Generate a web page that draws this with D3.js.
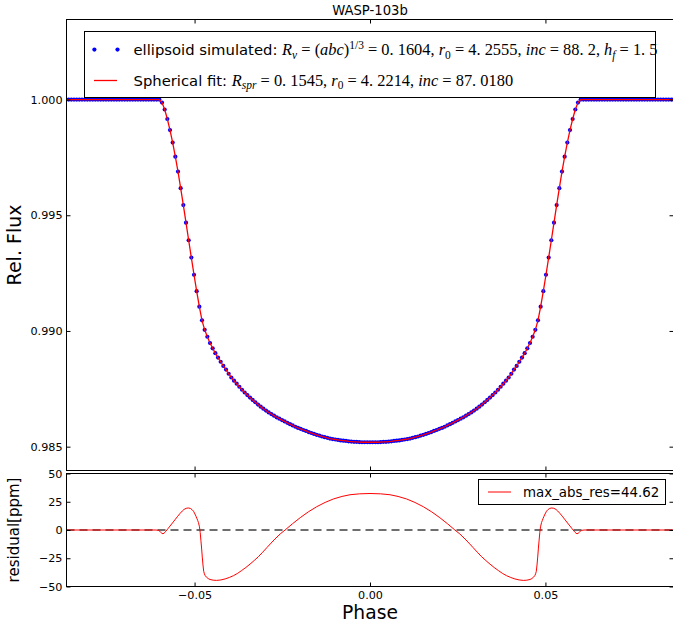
<!DOCTYPE html>
<html><head><meta charset="utf-8">
<script src="https://cdn.jsdelivr.net/npm/d3@7"></script>
<style>body{margin:0;background:#fff} svg{display:block} text{font-family:"DejaVu Sans",sans-serif}</style>
</head><body><svg id="c" width="673" height="628"></svg>
<script>
// ---- data ----
const phase = [
-0.08664,-0.08588,-0.08512,-0.08436,-0.0836,-0.08284,-0.08208,-0.08132,-0.08056,-0.0798,
-0.07904,-0.07828,-0.07752,-0.07676,-0.076,-0.07524,-0.07448,-0.07372,-0.07296,-0.0722,
-0.07144,-0.07068,-0.06992,-0.06916,-0.0684,-0.06764,-0.06688,-0.06612,-0.06536,-0.0646,
-0.06384,-0.06308,-0.06232,-0.06156,-0.0608,-0.06004,
-0.05928,-0.05852,-0.05776,-0.057,-0.05624,-0.05548,-0.05472,-0.05396,-0.0532,-0.05244,
-0.05168,-0.05092,-0.05016,-0.0494,-0.04864,-0.04788,-0.04712,-0.04636,-0.0456,-0.04484,
-0.04408,-0.04332,-0.04256,-0.0418,-0.04104,-0.04028,-0.03952,-0.03876,-0.038,-0.03724,
-0.03648,-0.03572,-0.03496,-0.0342,-0.03344,-0.03268,-0.03192,-0.03116,-0.0304,-0.02964,
-0.02888,-0.02812,-0.02736,-0.0266,-0.02584,-0.02508,-0.02432,-0.02356,-0.0228,-0.02204,
-0.02128,-0.02052,-0.01976,-0.019,-0.01824,-0.01748,-0.01672,-0.01596,-0.0152,-0.01444,
-0.01368,-0.01292,-0.01216,-0.0114,-0.01064,-0.00988,-0.00912,-0.00836,-0.0076,-0.00684,
-0.00608,-0.00532,-0.00456,-0.0038,-0.00304,-0.00228,-0.00152,-0.00076,
0,
0.00076,0.00152,0.00228,0.00304,0.0038,0.00456,0.00532,0.00608,
0.00684,0.0076,0.00836,0.00912,0.00988,0.01064,0.0114,0.01216,0.01292,0.01368,
0.01444,0.0152,0.01596,0.01672,0.01748,0.01824,0.019,0.01976,0.02052,0.02128,
0.02204,0.0228,0.02356,0.02432,0.02508,0.02584,0.0266,0.02736,0.02812,0.02888,
0.02964,0.0304,0.03116,0.03192,0.03268,0.03344,0.0342,0.03496,0.03572,0.03648,
0.03724,0.038,0.03876,0.03952,0.04028,0.04104,0.0418,0.04256,0.04332,0.04408,
0.04484,0.0456,0.04636,0.04712,0.04788,0.04864,0.0494,0.05016,0.05092,0.05168,
0.05244,0.0532,0.05396,0.05472,0.05548,0.05624,0.057,0.05776,0.05852,0.05928,
0.06004,0.0608,0.06156,0.06232,0.06308,0.06384,
0.0646,0.06536,0.06612,0.06688,0.06764,0.0684,0.06916,0.06992,0.07068,0.07144,
0.0722,0.07296,0.07372,0.07448,0.07524,0.076,0.07676,0.07752,0.07828,0.07904,
0.0798,0.08056,0.08132,0.08208,0.08284,0.0836,0.08436,0.08512,0.08588,0.08664
];
const simFlux = [
1,1,1,1,1,1,1,1,1,1,
1,1,1,1,1,1,1,1,1,1,
1,1,1,1,1,1,1,1,1,1,
1,1,1,1,1,1,
0.99987,0.99957,0.99916,0.99868,0.99814,0.99753,0.99689,0.99617,0.99544,0.99468,
0.99392,0.99317,0.99243,0.99172,0.99105,0.99046,0.99005,0.98975,0.98948,0.98925,
0.98904,0.98885,0.98867,0.98849,0.98833,0.98815,0.98799,0.98785,0.98772,0.98759,
0.98746,0.98734,0.98723,0.98712,0.98702,0.98692,0.98682,0.98673,0.98664,0.98656,
0.98648,0.98641,0.98634,0.98627,0.98621,0.98615,0.98609,0.98603,0.98597,0.98592,
0.98586,0.98581,0.98577,0.98572,0.98568,0.98563,0.98559,0.98555,0.98551,0.98548,
0.98544,0.98541,0.98538,0.98535,0.98533,0.98531,0.98529,0.98527,0.98526,0.98525,
0.98523,0.98522,0.98521,0.98521,0.98520,0.98519,0.98519,0.98519,
0.98519,
0.98519,0.98519,0.98519,0.98520,0.98521,0.98521,0.98522,0.98523,
0.98525,0.98526,0.98527,0.98529,0.98531,0.98533,0.98535,0.98538,0.98541,0.98544,
0.98548,0.98551,0.98555,0.98559,0.98563,0.98568,0.98572,0.98577,0.98581,0.98586,
0.98592,0.98597,0.98603,0.98609,0.98615,0.98621,0.98627,0.98634,0.98641,0.98648,
0.98656,0.98664,0.98673,0.98682,0.98692,0.98702,0.98712,0.98723,0.98734,0.98746,
0.98759,0.98772,0.98785,0.98799,0.98815,0.98833,0.98849,0.98867,0.98885,0.98904,
0.98925,0.98948,0.98975,0.99005,0.99046,0.99105,0.99172,0.99243,0.99317,0.99392,
0.99468,0.99544,0.99617,0.99689,0.99753,0.99814,0.99868,0.99916,0.99957,0.99987,
1,1,1,1,1,1,
1,1,1,1,1,1,1,1,1,1,
1,1,1,1,1,1,1,1,1,1,
1,1,1,1,1,1,1,1,1,1
];
// spherical fit: indistinguishable from the simulated curve at this scale
const fitFlux = simFlux;

const resPhase = [
-0.0865,-0.0610,-0.0602,-0.0597,-0.0593,-0.0590,-0.0587,-0.0583,-0.0579,-0.0575,
-0.0570,-0.0563,-0.0556,-0.0548,-0.0541,-0.0535,-0.0530,-0.0524,-0.0518,-0.0512,
-0.0507,-0.0503,-0.0499,-0.0496,-0.0493,-0.0491,-0.0489,-0.0486,-0.0484,-0.0482,
-0.0480,-0.0478,-0.0476,-0.0474,-0.0472,-0.0470,-0.0466,-0.0461,-0.0456,-0.0447,
-0.0437,-0.0425,-0.0413,-0.0401,-0.0389,-0.0377,-0.0366,-0.0354,-0.0342,-0.0330,
-0.0318,-0.0306,-0.0294,-0.0282,-0.0271,-0.0256,-0.0242,-0.0221,-0.0199,-0.0176,
-0.0152,-0.0128,-0.0104,-0.0080,-0.0057,-0.0030,
0,
0.0030,0.0057,0.0080,0.0104,0.0128,0.0152,
0.0176,0.0199,0.0221,0.0242,0.0256,0.0271,0.0282,0.0294,0.0306,0.0318,
0.0330,0.0342,0.0354,0.0366,0.0377,0.0389,0.0401,0.0413,0.0425,0.0437,
0.0447,0.0456,0.0461,0.0466,0.0470,0.0472,0.0474,0.0476,0.0478,0.0480,
0.0482,0.0484,0.0486,0.0489,0.0491,0.0493,0.0496,0.0499,0.0503,0.0507,
0.0512,0.0518,0.0524,0.0530,0.0535,0.0541,0.0548,0.0556,0.0563,0.0570,
0.0575,0.0579,0.0583,0.0587,0.0590,0.0593,0.0597,0.0602,0.0610,0.0865
];
const resPpm = [
0,0,-0.4,-1.8,-3.0,-3.3,-2.8,-1.6,0,1.5,
3.5,6.2,9,12.2,14.8,16.8,18.2,19.2,19.5,19.1,
18,16.6,14.2,12.2,10,8.3,6.7,2.8,-2.1,-9,
-16,-24,-31,-36.5,-38.8,-40.2,-41.8,-43,-43.8,-44.4,
-44.6,-44.2,-43.3,-42,-40.4,-38.3,-35.9,-33.2,-30.2,-27,
-23.6,-19.7,-15.6,-11.6,-8,-3.5,0,5.5,10.9,16,
20.6,24.4,27.5,29.7,31.2,32.0,
32.3,
32.0,31.2,29.7,27.5,24.4,20.6,
16,10.9,5.5,0,-3.5,-8,-11.6,-15.6,-19.7,-23.6,
-27,-30.2,-33.2,-35.9,-38.3,-40.4,-42,-43.3,-44.2,-44.6,
-44.4,-43.8,-43,-41.8,-40.2,-38.8,-36.5,-31,-24,-16,
-9,-2.1,2.8,6.7,8.3,10,12.2,14.2,16.6,18,
19.1,19.5,19.2,18.2,16.8,14.8,12.2,9,6.2,3.5,
1.5,0,-1.6,-2.8,-3.3,-3.0,-1.8,-0.4,0,0
];
const xTicks = [-0.05, 0, 0.05];
const fluxTicks = [0.985, 0.990, 0.995, 1.000];
const resTicks = [-50, -25, 0, 25, 50];
const titleText = "WASP-103b";
const resLegend = "max_abs_res=44.62";

// ---- layout ----
const svg = d3.select("#c");
const L = 66.5, R = 673.5, T1 = 19.5, B1 = 470.5, T2 = 473.5, B2 = 586.5;
const x = d3.scaleLinear().domain([-0.0865, 0.0865]).range([L, R]);
const yTop = d3.scaleLinear().domain([0.98397, 1.00346]).range([B1, T1]);
const yRes = d3.scaleLinear().domain([-50, 50]).range([B2, T2]);

const defs = svg.append("defs");
defs.append("clipPath").attr("id","clipTop").append("rect").attr("x",L).attr("y",T1).attr("width",R-L).attr("height",B1-T1);
defs.append("clipPath").attr("id","clipBot").append("rect").attr("x",L).attr("y",T2).attr("width",R-L).attr("height",B2-T2);

// ---- top panel ----
const pts = phase.map((p,i)=>({p, f: simFlux[i]})).filter(d=>d.f!==undefined);
const gTop = svg.append("g").attr("clip-path","url(#clipTop)");
gTop.selectAll("circle").data(pts).join("circle")
  .attr("cx", d=>x(d.p)).attr("cy", d=>yTop(d.f)).attr("r", 2.1).attr("fill","#0000ff");
gTop.append("path").datum(phase.map((p,i)=>[p, fitFlux[i]]))
  .attr("d", d3.line().x(d=>x(d[0])).y(d=>yTop(d[1])))
  .attr("fill","none").attr("stroke","#ff0000").attr("stroke-width",1.3);

// ---- bottom panel ----
const gBot = svg.append("g").attr("clip-path","url(#clipBot)");
gBot.append("line").attr("x1",L).attr("x2",R).attr("y1",yRes(0)).attr("y2",yRes(0))
  .attr("stroke","#555").attr("stroke-width",2).attr("stroke-dasharray","8,5").attr("opacity",0.85);
gBot.append("path").datum(resPhase.map((p,i)=>[p,resPpm[i]]))
  .attr("d", d3.line().x(d=>x(d[0])).y(d=>yRes(d[1])))
  .attr("fill","none").attr("stroke","#ff0000").attr("stroke-width",1);

// ---- axes ----
function styleAxis(g, fs){
  g.select(".domain").remove();
  g.selectAll(".tick line").attr("stroke","#000");
  g.selectAll("text").attr("font-size", fs).attr("font-family","DejaVu Sans").attr("fill","#000");
  g.attr("font-family", null);
}
const tfs = 11.2;
styleAxis(svg.append("g").attr("transform",`translate(${L},0)`).call(d3.axisLeft(yTop).tickValues(fluxTicks).tickSize(-4).tickPadding(4).tickFormat(d3.format(".3f"))), tfs);
styleAxis(svg.append("g").attr("transform",`translate(${R},0)`).call(d3.axisRight(yTop).tickValues(fluxTicks).tickSize(-4).tickFormat("")), tfs);
styleAxis(svg.append("g").attr("transform",`translate(0,${T1})`).call(d3.axisTop(x).tickValues(xTicks).tickSize(-4).tickFormat("")), tfs);
styleAxis(svg.append("g").attr("transform",`translate(0,${B1})`).call(d3.axisBottom(x).tickValues(xTicks).tickSize(-4).tickFormat("")), tfs);
styleAxis(svg.append("g").attr("transform",`translate(0,${T2})`).call(d3.axisTop(x).tickValues(xTicks).tickSize(-4).tickFormat("")), tfs);
styleAxis(svg.append("g").attr("transform",`translate(0,${B2})`).call(d3.axisBottom(x).tickValues(xTicks).tickSize(-4).tickPadding(4.5).tickFormat(d3.format(".2f"))), tfs);
styleAxis(svg.append("g").attr("transform",`translate(${L},0)`).call(d3.axisLeft(yRes).tickValues(resTicks).tickSize(-4).tickPadding(4).tickFormat(d3.format("d"))), tfs);
styleAxis(svg.append("g").attr("transform",`translate(${R},0)`).call(d3.axisRight(yRes).tickValues(resTicks).tickSize(-4).tickFormat("")), tfs);

// spines
svg.append("rect").attr("x",L).attr("y",T1).attr("width",R-L).attr("height",B1-T1).attr("fill","none").attr("stroke","#000");
svg.append("rect").attr("x",L).attr("y",T2).attr("width",R-L).attr("height",B2-T2).attr("fill","none").attr("stroke","#000");

// title & labels
svg.append("text").attr("x",(L+R)/2).attr("y",15).attr("text-anchor","middle").attr("font-size",13.2).text(titleText);
svg.append("text").attr("transform",`translate(21,${(T1+B1)/2}) rotate(-90)`).attr("text-anchor","middle").attr("font-size",19).text("Rel. Flux");
svg.append("text").attr("transform",`translate(19,${(T2+B2)/2}) rotate(-90)`).attr("text-anchor","middle").attr("font-size",15).text("residual[ppm]");
svg.append("text").attr("x",(L+R)/2).attr("y",619).attr("text-anchor","middle").attr("font-size",18.7).text("Phase");

// ---- top legend ----
svg.append("rect").attr("x",84.5).attr("y",31.5).attr("width",571).attr("height",66).attr("fill","#fff").attr("stroke","#000");
[94.4,117.5].forEach(cx=>svg.append("circle").attr("cx",cx).attr("cy",49.6).attr("r",2.1).attr("fill","#0000ff"));
svg.append("line").attr("x1",94).attr("x2",117).attr("y1",80.5).attr("y2",80.5).attr("stroke","#ff0000").attr("stroke-width",1.3);

const mathFont = "Liberation Serif";
function mathText(xp, yp, label, segs, mfs){
  const t = svg.append("text").attr("x",xp).attr("y",yp).style("white-space","pre").attr("font-size",14.8);
  t.append("tspan").text(label);
  let cur = 0;
  segs.forEach(([s, k])=>{
    let shift = 0, fs = mfs, it = false;
    if (k==="i") it = true;
    if (k==="sub"){ shift = 3.5; fs = mfs*0.7; }
    if (k==="isub"){ shift = 3.5; fs = mfs*0.7; it = true; }
    if (k==="sup"){ shift = -6; fs = mfs*0.7; }
    t.append("tspan").attr("font-family",mathFont).attr("font-size",fs)
      .attr("font-style", it ? "italic" : "normal").attr("dy", shift-cur).text(s);
    cur = shift;
  });
  return t;
}
mathText(133.5, 55, "ellipsoid simulated: ", [
  ["R","i"],["v","isub"],[" = (","r"],["abc","i"],[")","r"],["1/3","sup"],[" = 0. 1604, ","r"],
  ["r","i"],["0","sub"],[" = 4. 2555, ","r"],["inc","i"],[" = 88. 2, ","r"],["h","i"],["f","isub"],[" = 1. 5","r"]
], 16.4);
mathText(133.5, 85.5, "Spherical fit: ", [
  ["R","i"],["spr","isub"],[" = 0. 1545, ","r"],["r","i"],["0","sub"],[" = 4. 2214, ","r"],["inc","i"],[" = 87. 0180","r"]
], 16.4);

// ---- bottom legend ----
svg.append("rect").attr("x",478.5).attr("y",479.5).attr("width",187).attr("height",25).attr("fill","#fff").attr("stroke","#000");
svg.append("line").attr("x1",488).attr("x2",511).attr("y1",492).attr("y2",492).attr("stroke","#ff0000").attr("stroke-width",1);
svg.append("text").attr("x",523).attr("y",497).attr("font-size",13.4).text(resLegend);
</script></body></html>
